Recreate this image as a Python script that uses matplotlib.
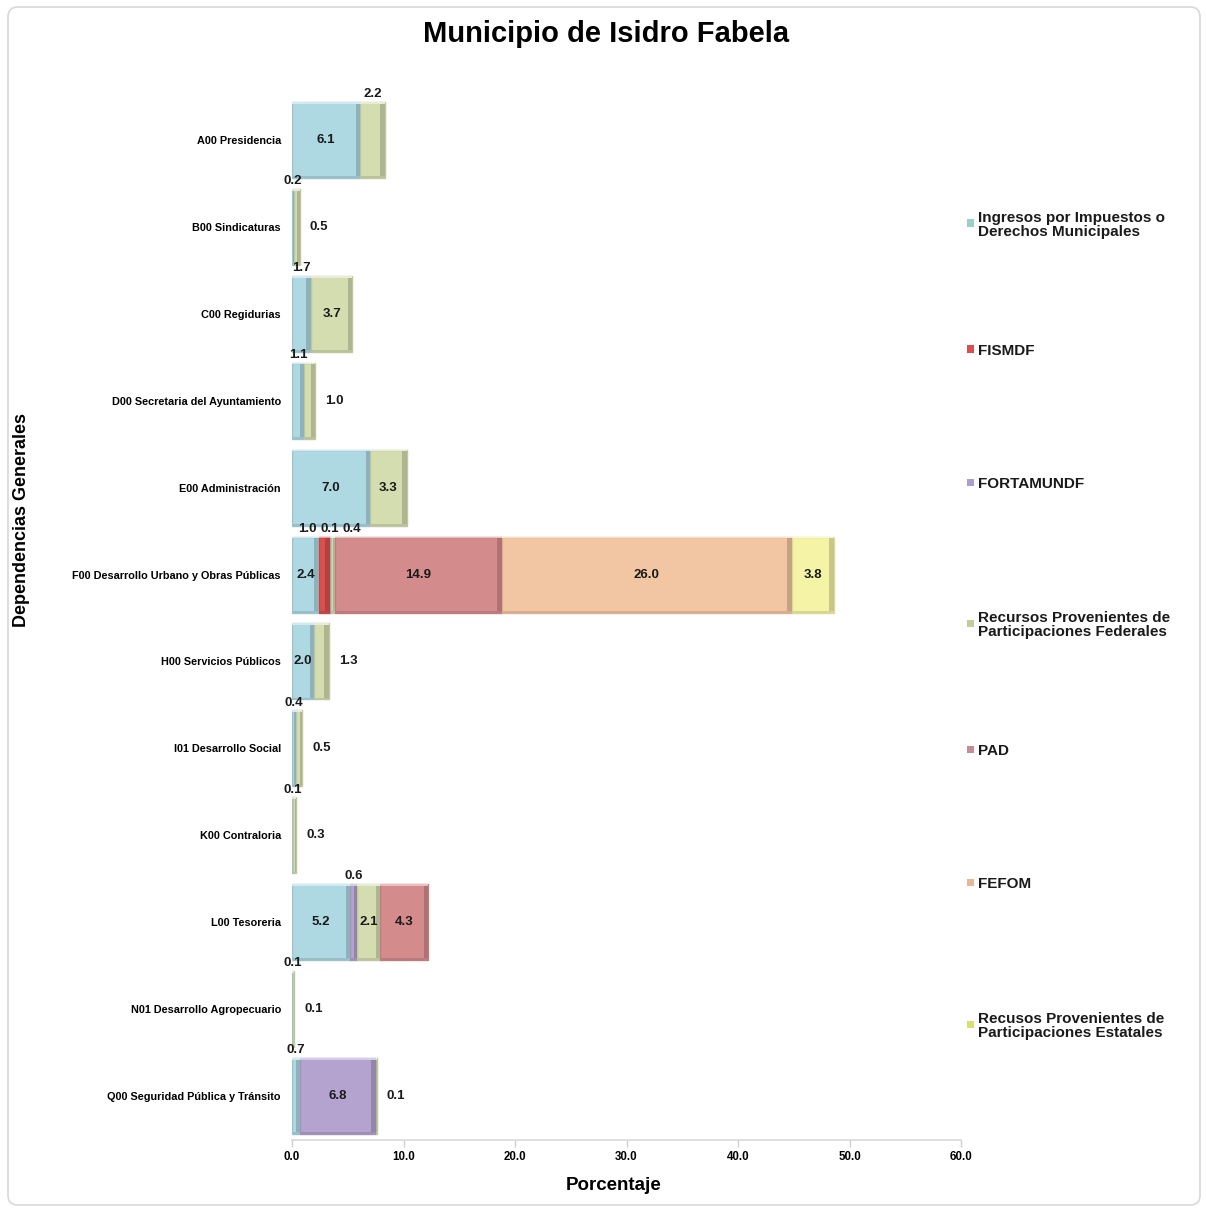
import matplotlib
matplotlib.use("Agg")
import matplotlib.pyplot as plt
import matplotlib.colors as mcolors
from matplotlib.patches import FancyBboxPatch, Rectangle
import numpy as np

categories = ["A00 Presidencia", "B00 Sindicaturas", "C00 Regidurias",
              "D00 Secretaria del Ayuntamiento", "E00 Administración",
              "F00 Desarrollo Urbano y Obras Públicas", "H00 Servicios Públicos",
              "I01 Desarrollo Social", "K00 Contraloria", "L00 Tesoreria",
              "N01 Desarrollo Agropecuario", "Q00 Seguridad Pública y Tránsito"]

series_names = ["Ingresos por Impuestos o\nDerechos Municipales", "FISMDF", "FORTAMUNDF",
                "Recursos Provenientes de\nParticipaciones Federales", "PAD", "FEFOM",
                "Recusos Provenientes de\nParticipaciones Estatales"]

ingresos   = [6.1, 0.2, 1.7, 1.1, 7.0, 2.4, 2.0, 0.4, 0.1, 5.2, 0.1, 0.7]
fismdf     = [0, 0, 0, 0, 0, 1.0, 0, 0, 0, 0, 0, 0]
fortamundf = [0, 0, 0, 0, 0, 0.1, 0, 0, 0, 0.6, 0, 6.8]
rec_fed    = [2.2, 0.5, 3.7, 1.0, 3.3, 0.4, 1.3, 0.5, 0.3, 2.1, 0.1, 0.1]
pad        = [0, 0, 0, 0, 0, 14.9, 0, 0, 0, 4.3, 0, 0]
fefom      = [0, 0, 0, 0, 0, 26.0, 0, 0, 0, 0, 0, 0]
rec_est    = [0, 0, 0, 0, 0, 3.8, 0, 0, 0, 0, 0, 0]

xticks = [0, 10, 20, 30, 40, 50, 60]

colors = ["#AED8E2", "#D9504E", "#B4A3CF", "#D4DDB0", "#D48B8C", "#F2C6A2", "#F4F3A6"]
legend_colors = ["#9CCFC8", "#D9504E", "#A8A0C8", "#C4CC9E", "#C98C92", "#E8B896", "#D8E070"]

# label placed above even if wide (manual placement in original)
above_override = {("A00 Presidencia", 3)}

data = [ingresos, fismdf, fortamundf, rec_fed, pad, fefom, rec_est]

W, H = 1206, 1211
fig = plt.figure(figsize=(W / 100, H / 100), dpi=100)
fig.patch.set_facecolor("white")
FONT = ["Liberation Sans", "DejaVu Sans"]
plt.rcParams["font.family"] = FONT

# outer frame
frame = FancyBboxPatch((8 / W, 6 / H), 1192 / W, 1198 / H,
                       boxstyle="round,pad=0,rounding_size=0.008",
                       transform=fig.transFigure, facecolor="none",
                       edgecolor="#D8D8D8", linewidth=1.2, zorder=-5)
fig.patches.append(frame)

ax_l, ax_r = 292 / W, 961 / W
ax_t, ax_b = 1 - 96.5 / H, 1 - 1139.5 / H
ax = fig.add_axes([ax_l, ax_b, ax_r - ax_l, ax_t - ax_b])
ax.set_facecolor("none")
ax.set_zorder(2)

n = len(categories)
ypos = np.arange(n)
bar_h = 0.875


def darker(c, f):
    r, g, b = mcolors.to_rgb(c)
    return (r * f, g * f, b * f)


def lighter(c, f):
    r, g, b = mcolors.to_rgb(c)
    return (r + (1 - r) * f, g + (1 - g) * f, b + (1 - b) * f)


label_fs = 9.5
for i, cat in enumerate(categories):
    y = ypos[i]
    left = 0.0
    segs = []
    for s in range(len(data)):
        v = data[s][i]
        if v <= 0:
            continue
        segs.append((s, left, v))
        left += v
    for (s, l, v) in segs:
        c = colors[s]
        ax.barh(y, v, left=l, height=bar_h, color=c, edgecolor=darker(c, 0.9),
                linewidth=1.0, zorder=2)
        sw = min(0.4, v * 0.45)
        ax.add_patch(Rectangle((l + v - sw, y - bar_h / 2), sw, bar_h,
                               facecolor=darker(c, 0.82), edgecolor="none", zorder=3))
        ax.add_patch(Rectangle((l, y - bar_h / 2), v, 0.02,
                               facecolor=lighter(c, 0.45), edgecolor="none", zorder=3))
        ax.add_patch(Rectangle((l, y + bar_h / 2 - 0.02), v, 0.02,
                               facecolor=darker(c, 0.88), edgecolor="none", zorder=3))
    above = []
    for k, (s, l, v) in enumerate(segs):
        is_last = (k == len(segs) - 1)
        if (cat, s) in above_override:
            above.append((l + v / 2, v))
        elif v >= 2.0:
            ax.text(l + v / 2, y, f"{v:.1f}", ha="center", va="center",
                    fontsize=label_fs, fontweight="bold", color="#1A1A1A", zorder=5)
        elif is_last:
            ax.text(l + v + 0.9, y, f"{v:.1f}", ha="left", va="center",
                    fontsize=label_fs, fontweight="bold", color="#1A1A1A", zorder=5)
        else:
            above.append((l + v / 2, v))
    if above:
        gap = 2.0
        centres = [c for c, _ in above]
        if len(above) > 1:
            mean = np.mean(centres)
            pos = [mean + (j - (len(above) - 1) / 2) * gap for j in range(len(above))]
        else:
            pos = centres
        for p, (_, v) in zip(pos, above):
            ax.text(p, y - bar_h / 2 - 0.02, f"{v:.1f}", ha="center", va="bottom",
                    fontsize=label_fs, fontweight="bold", color="#1A1A1A", zorder=5)

ax.set_xlim(0, 60)
ax.set_ylim(n - 0.5, -0.5)
ax.set_yticks(ypos)
ax.set_yticklabels(categories, fontsize=7.8, fontweight="bold")
ax.tick_params(axis="y", length=0, pad=8)
ax.set_xticks(xticks)
ax.set_xticklabels([f"{t:.1f}" for t in xticks], fontsize=8.3, fontweight="bold")
ax.tick_params(axis="x", length=5, color="#D0D0D0", width=1, pad=3)
for sp in ["top", "right", "left"]:
    ax.spines[sp].set_visible(False)
ax.spines["bottom"].set_color("#D8D8D8")
ax.spines["bottom"].set_linewidth(1.2)

fig.text(606 / W, 1 - 34 / H, "Municipio de Isidro Fabela", ha="center", va="center",
         fontsize=21, fontweight="bold")
fig.text(614 / W, 1 - 1186 / H, "Porcentaje", ha="center", va="center",
         fontsize=13.5, fontweight="bold")
fig.text(22 / W, 1 - 520 / H, "Dependencias Generales", ha="center", va="center",
         rotation=90, fontsize=13, fontweight="bold")

leg_y = [225, 351, 484, 625, 751, 884, 1026]
for name, c, yy in zip(series_names, legend_colors, leg_y):
    fig.patches.append(Rectangle((967 / W, 1 - (yy - 2 + 3.5) / H), 7 / W, 7 / H,
                                 transform=fig.transFigure, facecolor=c,
                                 edgecolor="none"))
    fig.text(978 / W, 1 - yy / H, name, ha="left", va="center", fontsize=11,
             fontweight="bold", linespacing=0.95, color="#1A1A1A")

fig.savefig("out.png", dpi=100, facecolor="white")
